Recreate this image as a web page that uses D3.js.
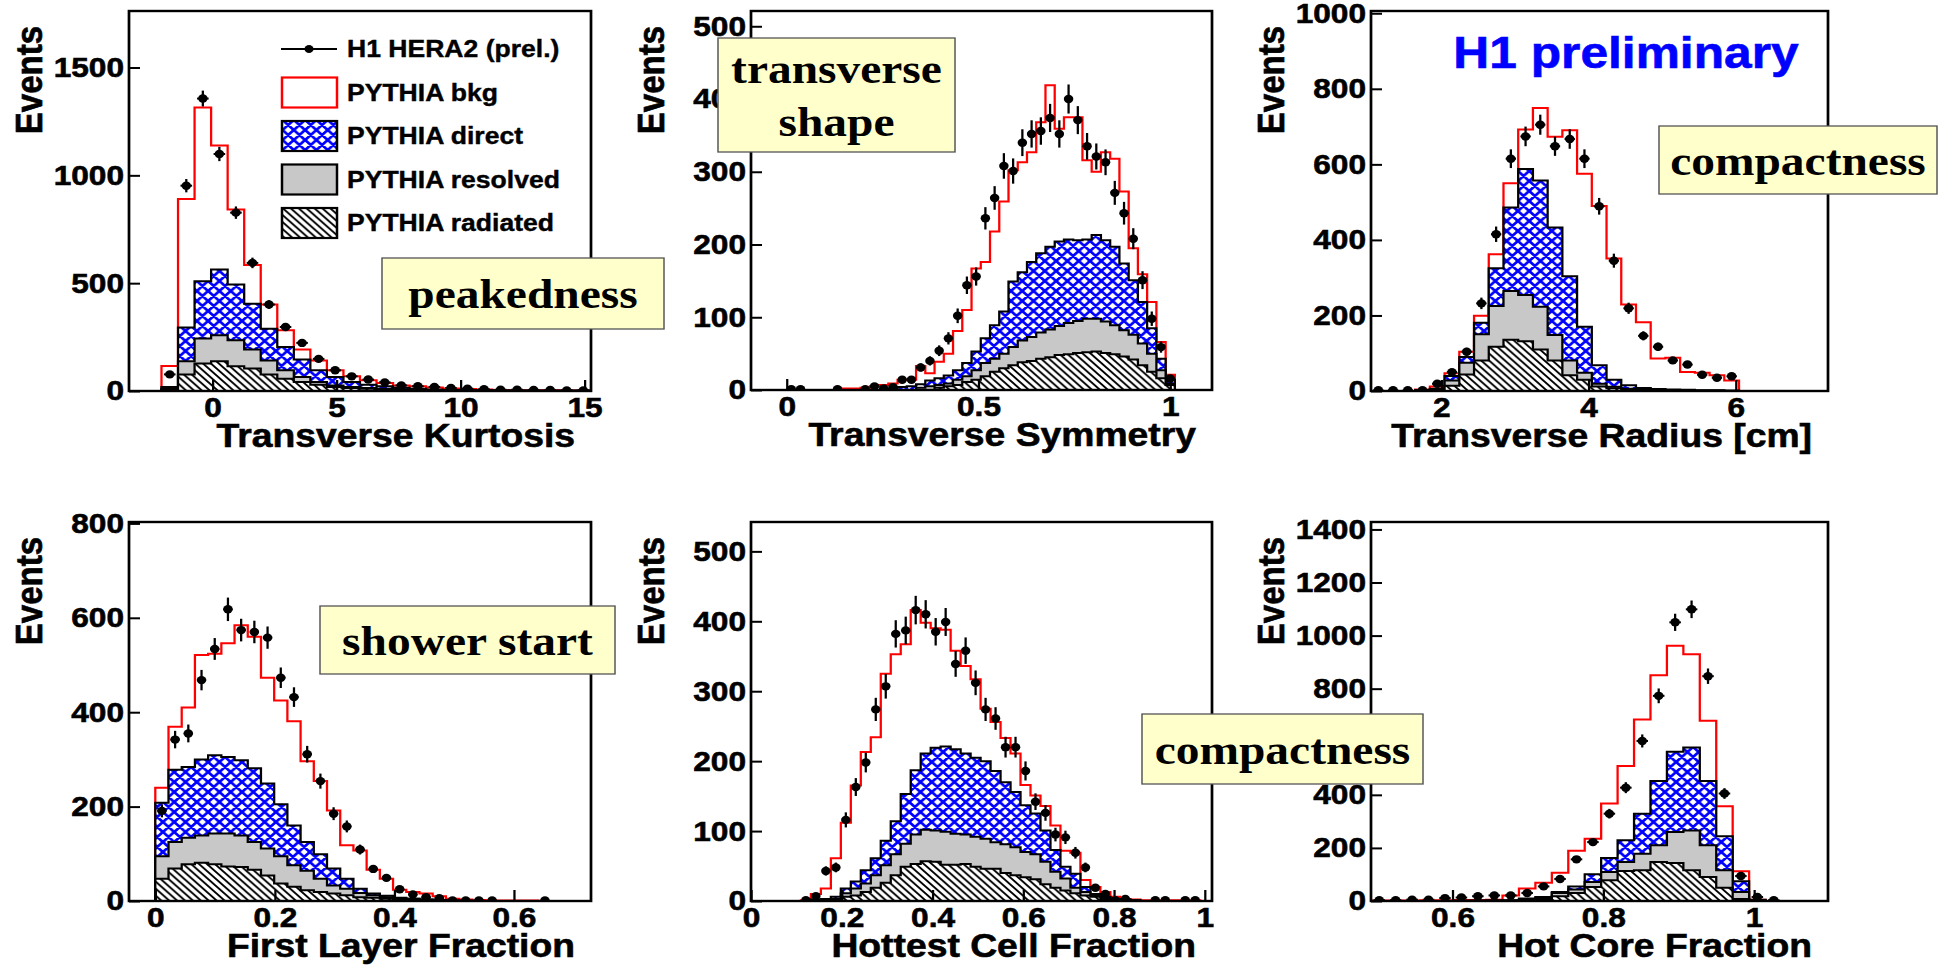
<!DOCTYPE html>
<html lang="en">
<head>
<meta charset="utf-8">
<title>H1 prompt photon shower shapes</title>
<script src="https://cdn.jsdelivr.net/npm/d3@7"></script>
<style>
  body { margin: 0; background: white; }
  svg text { font-family: "Liberation Sans", Arial, sans-serif; font-weight: bold; }
</style>
</head>
<body>
<div id="chart"></div>
<script>
// Events per bin.
// MC is stacked: radiated < resolved < direct < total (red "bkg" line),
// so the *Direct / *Resolved / *Radiated arrays are the top of each layer.

// Transverse Kurtosis
var kurtData = [77, 952, 1356, 1099, 827, 594, 401, 297, 223, 149, 96, 68, 53, 40, 26, 22, 19, 14, 11, 8, 6, 6, 5, 5, 3, 3];
var kurtTotal = [116, 890, 1314, 1138, 842, 584, 401, 282, 192, 142, 96, 68, 50, 37, 26, 22, 16, 12, 9, 7, 5, 4, 3, 3, 2, 2];
var kurtDirect = [18, 294, 509, 563, 494, 405, 289, 204, 146, 96, 65, 42, 29, 22, 15, 10, 7, 5, 4, 3, 2, 2, 1, 1, 1, 1];
var kurtResolved = [11, 138, 243, 258, 235, 192, 142, 96, 65, 42, 26, 18, 14, 10, 8, 6, 4, 3, 2, 2, 1, 1, 1, 1, 1, 1];
var kurtRadiated = [8, 77, 127, 138, 115, 104, 76, 57, 42, 29, 19, 14, 10, 7, 5, 4, 3, 2, 2, 1, 1, 1, 1, 1, 1, 1];

// Transverse Symmetry
var symData = [1, 1, 0, 0, 0, 1, 0, 0, 1, 5, 2, 4, 14, 14, 31, 40, 54, 71, 102, 144, 156, 236, 264, 308, 301, 340, 352, 356, 374, 352, 400, 371, 335, 321, 313, 271, 243, 208, 151, 98, 59, 16];
var symTotal = [0, 0, 0, 0, 0, 0, 2, 2, 3, 5, 7, 9, 14, 14, 33, 23, 39, 50, 81, 110, 167, 176, 218, 259, 302, 313, 327, 368, 419, 359, 375, 375, 316, 300, 327, 318, 273, 195, 159, 121, 66, 21];
var symDirect = [0, 0, 0, 0, 0, 0, 0, 0, 0, 0, 0, 2, 4, 5, 8, 13, 16, 20, 27, 37, 53, 71, 89, 108, 149, 162, 176, 188, 197, 204, 207, 206, 207, 213, 206, 197, 174, 151, 121, 85, 43, 14];
var symResolved = [0, 0, 0, 0, 0, 0, 0, 0, 0, 0, 0, 0, 0, 0, 3, 5, 7, 9, 14, 19, 27, 37, 43, 50, 59, 68, 73, 79, 83, 88, 92, 95, 98, 98, 94, 89, 82, 76, 64, 50, 27, 9];
var symRadiated = [0, 0, 0, 0, 0, 0, 0, 0, 0, 0, 0, 0, 0, 0, 0, 0, 3, 5, 7, 11, 14, 19, 25, 30, 34, 38, 40, 43, 45, 48, 49, 51, 52, 53, 51, 49, 46, 42, 34, 25, 16, 7];

// Transverse Radius [cm]
var radiusData = [2, 2, 2, 2, 19, 50, 104, 232, 415, 615, 674, 705, 648, 667, 615, 489, 345, 219, 146, 117, 81, 70, 43, 35, 39];
var radiusTotal = [0, 0, 0, 4, 12, 47, 104, 199, 362, 550, 692, 749, 673, 690, 575, 490, 351, 229, 182, 86, 88, 50, 48, 42, 28];
var radiusDirect = [0, 0, 0, 2, 6, 40, 90, 181, 325, 486, 588, 557, 433, 304, 170, 68, 30, 15, 8, 5, 4, 3, 2, 2, 1];
var radiusResolved = [0, 0, 0, 1, 4, 28, 75, 150, 225, 265, 254, 223, 148, 81, 48, 19, 11, 6, 4, 3, 2, 1, 1, 1, 0];
var radiusRadiated = [0, 0, 0, 1, 3, 14, 44, 81, 117, 136, 132, 110, 81, 42, 30, 12, 7, 4, 3, 2, 1, 1, 0, 0, 0];

// First Layer Fraction
var firstData = [191, 342, 355, 468, 534, 618, 574, 570, 558, 473, 432, 311, 254, 185, 158, 109, 68, 49, 25, 14, 8, 6, 1, 1, 1, 1, 0, 0, 0, 1];
var firstTotal = [240, 369, 410, 521, 524, 546, 584, 560, 473, 425, 381, 296, 254, 192, 118, 107, 66, 47, 24, 19, 16, 10, 5, 3, 2, 1, 1, 1, 1, 0];
var firstDirect = [208, 278, 284, 300, 309, 305, 298, 281, 249, 205, 160, 125, 99, 69, 47, 26, 16, 11, 7, 5, 3, 2, 1, 1, 0, 0, 0, 0, 0, 0];
var firstResolved = [95, 125, 134, 139, 143, 143, 139, 125, 111, 95, 76, 64, 47, 33, 26, 17, 12, 8, 6, 5, 3, 2, 1, 0, 0, 0, 0, 0, 0, 0];
var firstRadiated = [47, 69, 78, 81, 78, 73, 72, 66, 54, 37, 30, 23, 19, 16, 12, 8, 7, 5, 3, 2, 1, 0, 0, 0, 0, 0, 0, 0, 0, 0];

// Hottest Cell Fraction
var hotData = [0, 0, 0, 0, 0, 1, 7, 43, 48, 116, 163, 198, 274, 307, 382, 387, 416, 410, 385, 399, 339, 358, 312, 274, 261, 220, 220, 186, 142, 126, 95, 91, 69, 48, 19, 10, 1, 3, 0, 0, 1, 1, 0, 1, 1, 0];
var hotTotal = [0, 0, 0, 0, 0, 1, 10, 18, 61, 112, 165, 213, 234, 325, 353, 367, 416, 398, 390, 388, 358, 336, 317, 275, 256, 233, 211, 166, 151, 136, 108, 72, 69, 30, 20, 13, 6, 3, 2, 1, 1, 1, 1, 1, 1, 0];
var hotDirect = [0, 0, 0, 0, 0, 0, 2, 3, 6, 18, 28, 44, 61, 86, 114, 153, 187, 211, 219, 221, 217, 211, 205, 200, 186, 170, 156, 137, 125, 101, 73, 49, 39, 20, 10, 6, 3, 2, 1, 0, 0, 0, 0, 0, 0, 0];
var hotResolved = [0, 0, 0, 0, 0, 0, 0, 2, 3, 11, 18, 25, 37, 51, 67, 82, 95, 102, 101, 99, 96, 95, 92, 89, 84, 81, 77, 70, 67, 56, 42, 32, 19, 13, 8, 5, 3, 2, 1, 0, 0, 0, 0, 0, 0, 0];
var hotRadiated = [0, 0, 0, 0, 0, 0, 0, 0, 2, 6, 8, 13, 19, 26, 37, 49, 53, 57, 56, 52, 52, 53, 49, 46, 46, 40, 37, 34, 31, 24, 19, 15, 11, 8, 6, 3, 2, 1, 0, 0, 0, 0, 0, 0, 0, 0];

// Hot Core Fraction
var coreData = [3, 3, 5, 5, 11, 13, 18, 21, 21, 30, 55, 83, 157, 222, 329, 427, 603, 773, 1050, 1099, 847, 405, 94, 15, 3, 0, 0, 0];
var coreTotal = [2, 2, 2, 3, 3, 4, 4, 5, 21, 47, 69, 106, 189, 235, 367, 509, 684, 851, 962, 930, 679, 357, 112, 5, 0, 0, 0, 0];
var coreDirect = [0, 0, 0, 0, 0, 1, 1, 2, 3, 9, 15, 34, 55, 101, 162, 229, 329, 452, 562, 578, 452, 244, 74, 5, 0, 0, 0, 0];
var coreResolved = [0, 0, 0, 0, 0, 1, 1, 2, 2, 6, 11, 30, 43, 72, 109, 147, 178, 210, 260, 266, 210, 116, 34, 3, 0, 0, 0, 0];
var coreRadiated = [0, 0, 0, 0, 0, 0, 1, 1, 1, 4, 8, 18, 30, 53, 78, 113, 116, 147, 143, 116, 90, 50, 8, 0, 0, 0, 0, 0];

var legendLabels = ["H1 HERA2 (prel.)", "PYTHIA bkg", "PYTHIA direct", "PYTHIA resolved", "PYTHIA radiated"];

// panel layout (picture pixels) + binning of each histogram
var panels = [
    {left: 129, top: 11, right: 591, bottom: 391, xd: [-3.37, 15.26], yMax: 1762, lo: -2.06, bw: 0.667,
     xt: [0, 5, 10, 15], yt: [0, 500, 1000, 1500], title: "Transverse Kurtosis",
     data: kurtData, total: kurtTotal, direct: kurtDirect, resolved: kurtResolved, radiated: kurtRadiated},
    {left: 751, top: 11, right: 1212, bottom: 390, xd: [-0.093, 1.109], yMax: 521, lo: 0, bw: 0.0241,
     xt: [0, 0.5, 1], yt: [0, 100, 200, 300, 400, 500], title: "Transverse Symmetry",
     data: symData, total: symTotal, direct: symDirect, resolved: symResolved, radiated: symRadiated},
    {left: 1371, top: 11, right: 1828, bottom: 391, xd: [1.045, 7.254], yMax: 1006, lo: 1.045, bw: 0.2,
     xt: [2, 4, 6], yt: [0, 200, 400, 600, 800, 1000], title: "Transverse Radius [cm]",
     data: radiusData, total: radiusTotal, direct: radiusDirect, resolved: radiusResolved, radiated: radiusRadiated},
    {left: 129, top: 522, right: 591, bottom: 901, xd: [-0.044, 0.729], yMax: 803, lo: 0, bw: 0.0221,
     xt: [0, 0.2, 0.4, 0.6], yt: [0, 200, 400, 600, 800], title: "First Layer Fraction",
     data: firstData, total: firstTotal, direct: firstDirect, resolved: firstResolved, radiated: firstRadiated},
    {left: 751, top: 522, right: 1212, bottom: 901, xd: [0, 1.016], yMax: 542, lo: 0, bw: 0.022,
     xt: [0, 0.2, 0.4, 0.6, 0.8, 1], yt: [0, 100, 200, 300, 400, 500], title: "Hottest Cell Fraction",
     data: hotData, total: hotTotal, direct: hotDirect, resolved: hotResolved, radiated: hotRadiated},
    {left: 1371, top: 522, right: 1828, bottom: 901, xd: [0.492, 1.098], yMax: 1428, lo: 0.492, bw: 0.0218,
     xt: [0.6, 0.8, 1], yt: [0, 200, 400, 600, 800, 1000, 1200, 1400], title: "Hot Core Fraction",
     data: coreData, total: coreTotal, direct: coreDirect, resolved: coreResolved, radiated: coreRadiated}
];

// yellow labels
var notes = [
    {x0: 382, y0: 258, x1: 664, y1: 329, lines: ["peakedness"]},
    {x0: 718, y0: 38, x1: 955, y1: 152, lines: ["transverse", "shape"]},
    {x0: 1659, y0: 126, x1: 1937, y1: 194, lines: ["compactness"]},
    {x0: 320, y0: 606, x1: 615, y1: 674, lines: ["shower start"]},
    {x0: 1142, y0: 714, x1: 1423, y1: 784, lines: ["compactness"]}
];

// the original picture is stretched sideways, so draw in narrower units and let the viewBox widen it
var SX = 1.13;
var W = 1946, H = 966;
function fx(v) { return v / SX; }

var svg = d3.select("#chart").append("svg")
    .attr("width", W)
    .attr("height", H)
    .attr("viewBox", "0 0 " + fx(W) + " " + H)
    .attr("preserveAspectRatio", "none");

var defs = svg.append("defs");

// blue cross hatch (direct)
var pd = defs.append("pattern").attr("id", "direct")
    .attr("patternUnits", "userSpaceOnUse").attr("width", 10).attr("height", 10);
pd.append("rect").attr("width", 10).attr("height", 10).attr("fill", "white");
pd.append("path")
    .attr("d", "M-5,5L5,15M0,0L10,10M5,-5L15,5M-5,5L5,-5M0,10L10,0M5,15L15,5")
    .attr("stroke", "#0000ff").attr("stroke-width", 2.6);

// black diagonal hatch (radiated)
var pr = defs.append("pattern").attr("id", "radiated")
    .attr("patternUnits", "userSpaceOnUse").attr("width", 7).attr("height", 7);
pr.append("rect").attr("width", 7).attr("height", 7).attr("fill", "white");
pr.append("path")
    .attr("d", "M-3.5,3.5L3.5,10.5M0,0L7,7M3.5,-3.5L10.5,3.5")
    .attr("stroke", "black").attr("stroke-width", 1.8);

var fmt = d3.format("~g");

panels.forEach(function(p, k) {
    var w = fx(p.right - p.left), h = p.bottom - p.top;
    var g = svg.append("g").attr("transform", "translate(" + fx(p.left) + "," + p.top + ")");

    var x = d3.scaleLinear().domain(p.xd).range([0, w]);
    var y = d3.scaleLinear().domain([0, p.yMax]).range([h, 0]);

    defs.append("clipPath").attr("id", "clip" + k)
        .append("rect").attr("width", w).attr("height", h);
    var plot = g.append("g").attr("clip-path", "url(#clip" + k + ")");

    var n = p.data.length;
    // bin edges with a closing point so the last bin gets its full width
    function stepPts(vals) {
        var pts = vals.map(function(v, i) { return [p.lo + i * p.bw, v]; });
        pts.push([p.lo + n * p.bw, vals[n - 1]]);
        return pts;
    }
    var area = d3.area()
        .curve(d3.curveStepAfter)
        .x(function(d) { return x(d[0]); })
        .y0(y(0))
        .y1(function(d) { return y(d[1]); });

    var layers = [
        {vals: p.total, fill: "white", stroke: "#ff0000"},
        {vals: p.direct, fill: "url(#direct)", stroke: "black"},
        {vals: p.resolved, fill: "#c8c8c8", stroke: "black"},
        {vals: p.radiated, fill: "url(#radiated)", stroke: "black"}
    ];
    plot.selectAll("path.mc")
        .data(layers)
        .enter()
        .append("path")
        .attr("class", "mc")
        .attr("d", function(d) { return area(stepPts(d.vals)); })
        .attr("fill", function(d) { return d.fill; })
        .attr("stroke", function(d) { return d.stroke; })
        .attr("stroke-width", 2);

    // data points with sqrt(N) errors
    var pts = p.data.map(function(v, i) { return {c: p.lo + (i + 0.5) * p.bw, v: v}; })
        .filter(function(d) { return d.v > 0; });
    var pg = plot.selectAll("g.pt")
        .data(pts)
        .enter()
        .append("g")
        .attr("class", "pt");
    pg.append("line")
        .attr("x1", function(d) { return x(d.c); })
        .attr("x2", function(d) { return x(d.c); })
        .attr("y1", function(d) { return y(d.v - Math.sqrt(d.v)); })
        .attr("y2", function(d) { return y(d.v + Math.sqrt(d.v)); })
        .attr("stroke", "black").attr("stroke-width", 2);
    pg.append("line")
        .attr("x1", function(d) { return x(d.c - 0.35 * p.bw); })
        .attr("x2", function(d) { return x(d.c + 0.35 * p.bw); })
        .attr("y1", function(d) { return y(d.v); })
        .attr("y2", function(d) { return y(d.v); })
        .attr("stroke", "black").attr("stroke-width", 2);
    pg.append("circle")
        .attr("cx", function(d) { return x(d.c); })
        .attr("cy", function(d) { return y(d.v); })
        .attr("r", 4.2)
        .attr("fill", "black");

    // axes, ticks pointing inwards
    var xa = g.append("g")
        .attr("transform", "translate(0," + h + ")")
        .call(d3.axisBottom(x).tickValues(p.xt).tickFormat(fmt)
            .tickSizeInner(-11).tickSizeOuter(0).tickPadding(6));
    var ya = g.append("g")
        .call(d3.axisLeft(y).tickValues(p.yt).tickFormat(fmt)
            .tickSizeInner(-fx(11)).tickSizeOuter(0).tickPadding(fx(5)));
    [xa, ya].forEach(function(a) {
        a.select(".domain").remove();
        a.attr("font-size", 28).attr("font-family", null);
        a.selectAll("line").attr("stroke-width", 2);
        a.selectAll("text").attr("fill", "black")
            .attr("stroke", "black").attr("stroke-width", 0.6);
    });

    g.append("rect")
        .attr("width", w).attr("height", h)
        .attr("fill", "none").attr("stroke", "black").attr("stroke-width", 2.4);

    g.append("text")
        .attr("x", w - fx(16))
        .attr("y", h + 56)
        .attr("text-anchor", "end")
        .attr("font-size", 33)
        .attr("stroke", "black").attr("stroke-width", 0.6)
        .text(p.title);

    g.append("text")
        .attr("transform", "translate(" + fx(-87) + ",15) rotate(-90)")
        .attr("text-anchor", "end")
        .attr("font-size", 33)
        .attr("stroke", "black").attr("stroke-width", 0.6)
        .text("Events");
});

// legend inside the first panel
var keys = [
    {fill: "none", stroke: "none"},
    {fill: "white", stroke: "#ff0000"},
    {fill: "url(#direct)", stroke: "black"},
    {fill: "#c8c8c8", stroke: "black"},
    {fill: "url(#radiated)", stroke: "black"}
];
var legend = svg.append("g");
legendLabels.forEach(function(t, i) {
    var cy = 49 + 43.5 * i;
    if (i === 0) {
        legend.append("line")
            .attr("x1", fx(281)).attr("x2", fx(337)).attr("y1", cy).attr("y2", cy)
            .attr("stroke", "black").attr("stroke-width", 2);
        legend.append("circle").attr("cx", fx(309)).attr("cy", cy).attr("r", 4).attr("fill", "black");
    } else {
        legend.append("rect")
            .attr("x", fx(282)).attr("y", cy - 15)
            .attr("width", fx(55)).attr("height", 30)
            .attr("fill", keys[i].fill).attr("stroke", keys[i].stroke).attr("stroke-width", 2.2);
    }
    legend.append("text")
        .attr("x", fx(347)).attr("y", cy)
        .attr("dy", "0.35em")
        .attr("font-size", 23.5)
        .attr("stroke", "black").attr("stroke-width", 0.4)
        .text(t);
});

svg.append("text")
    .attr("x", fx(1626)).attr("y", 68)
    .attr("text-anchor", "middle")
    .attr("font-size", 44)
    .attr("fill", "#0000ff")
    .attr("stroke", "#0000ff").attr("stroke-width", 0.6)
    .text("H1 preliminary");

notes.forEach(function(b) {
    svg.append("rect")
        .attr("x", fx(b.x0)).attr("y", b.y0)
        .attr("width", fx(b.x1 - b.x0)).attr("height", b.y1 - b.y0)
        .attr("fill", "#ffffcc").attr("stroke", "#555").attr("stroke-width", 1.3);
    var cy = (b.y0 + b.y1) / 2;
    b.lines.forEach(function(t, j) {
        svg.append("text")
            .attr("x", fx((b.x0 + b.x1) / 2))
            .attr("y", cy + 15 + (j - (b.lines.length - 1) / 2) * 53)
            .attr("text-anchor", "middle")
            .attr("font-size", 42)
            .style("font-family", "'Liberation Serif', 'Times New Roman', serif")
            .text(t);
    });
});
</script>
</body>
</html>
